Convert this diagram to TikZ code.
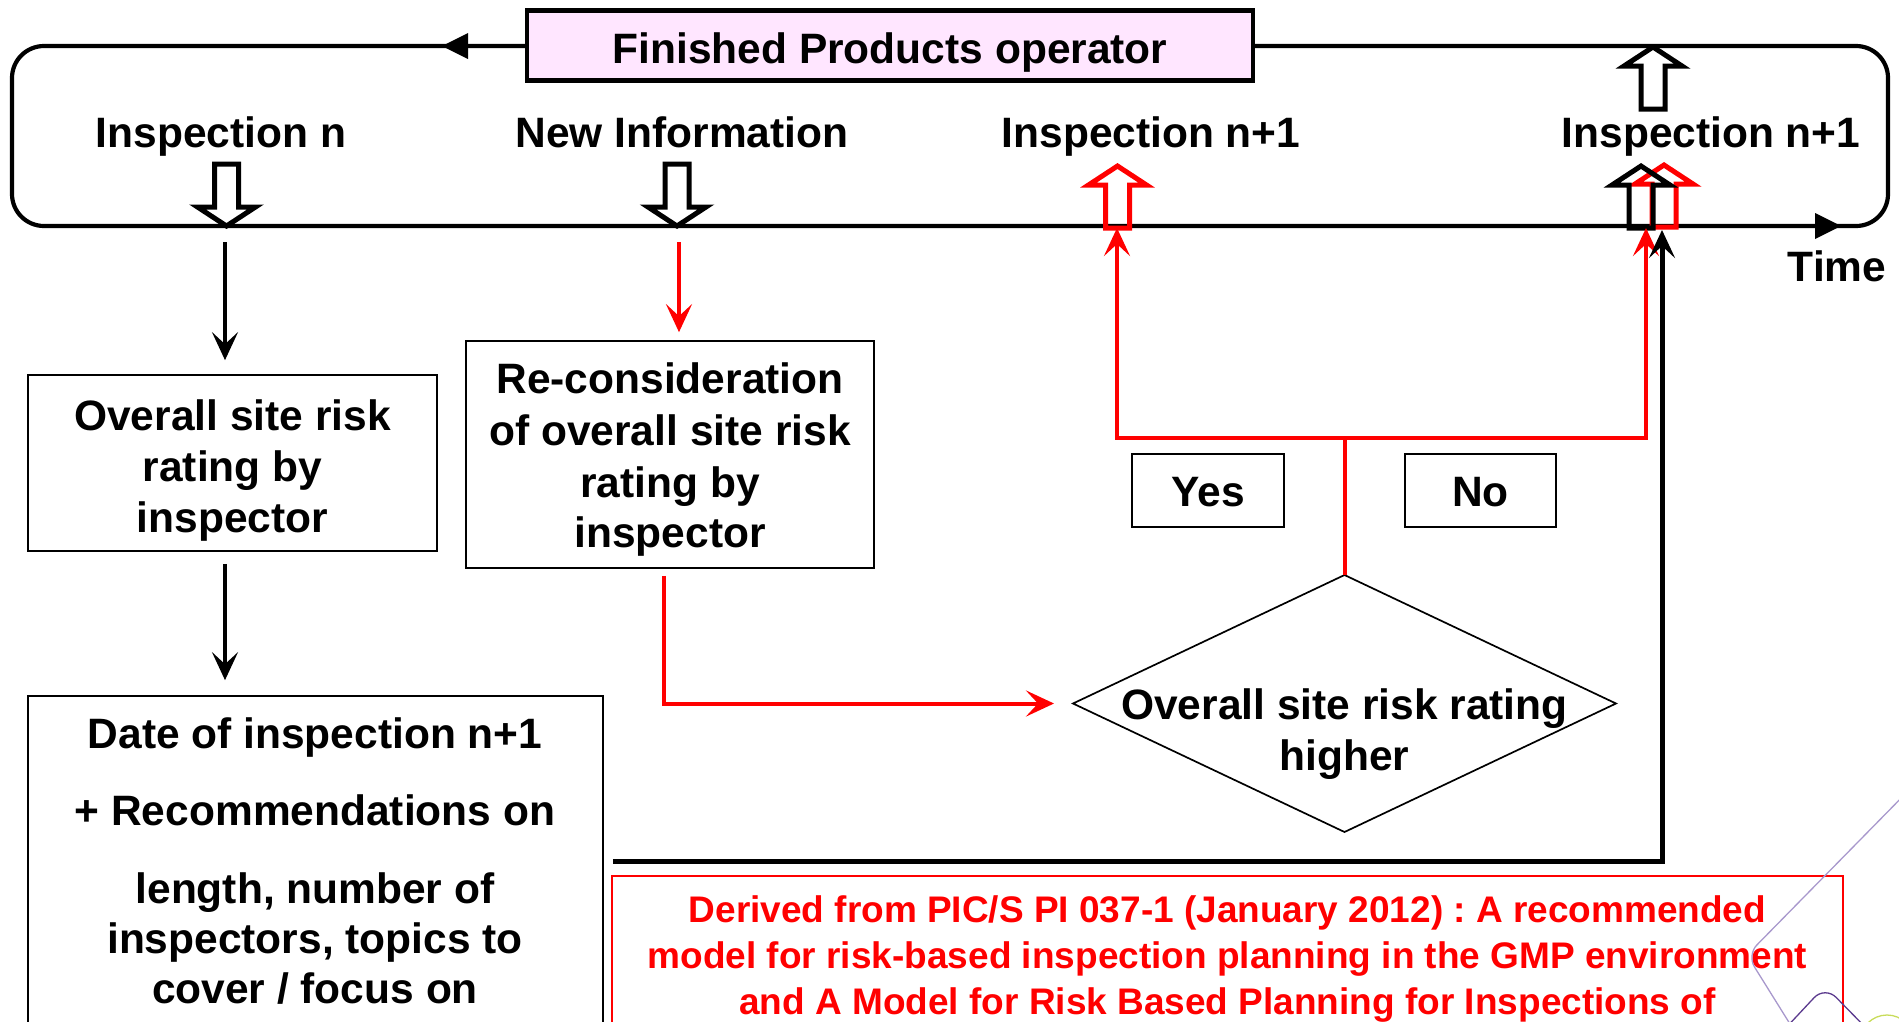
\documentclass[tikz,border=0pt]{standalone}
\usepackage{fontspec}
\setmainfont{Liberation Sans}
\usetikzlibrary{arrows.meta}
\definecolor{pinkfill}{HTML}{FFE6FF}
\definecolor{lav}{HTML}{A898CC}
\definecolor{dpurp}{HTML}{5B3A8E}
\definecolor{ygreen}{HTML}{C8DC5A}
\frenchspacing
\tikzset{
  pics/hup/.style={code={\draw[line width=5pt] (0,0) -- (29,19) -- (12,19) -- (12,62) -- (-12,62) -- (-12,19) -- (-29,19) -- cycle;}},
  pics/hdown/.style={code={\draw[line width=5pt] (0,0) -- (29,-19) -- (12,-19) -- (12,-62) -- (-12,-62) -- (-12,-19) -- (-29,-19) -- cycle;}},
}
\begin{document}
\begin{tikzpicture}[x=1pt,y=-1pt,
  txt/.style={anchor=base, inner sep=0pt, font=\fontsize{42.5}{50}\selectfont\bfseries},
  redtxt/.style={anchor=base, inner sep=0pt, text=red, font=\fontsize{37}{46}\selectfont\bfseries},
  boxstyle/.style={draw, line width=1.7pt, inner sep=0pt},
  tipstyle/.style={-{Stealth[length=28pt,width=26pt,inset=12pt]}},
  blkarrow/.style={line width=3.2pt, tipstyle},
  redarrow/.style={draw=red, line width=4pt, tipstyle},
  redboth/.style={draw=red, line width=4pt, {Stealth[length=28pt,width=26pt,inset=12pt]}-{Stealth[length=28pt,width=26pt,inset=12pt]}},
  thkarrow/.style={line width=5pt, tipstyle},
]
\useasboundingbox (0,0) rectangle (1899,1021);
\clip (0,0) rectangle (1899,1021);

% timeline loop
\draw[line width=4.2pt, rounded corners=32pt] (527,46) -- (12,46) -- (12,226) -- (1888,226) -- (1888,46) -- (1253,46);
\fill (442,46) -- (468,33) -- (468,59) -- cycle;
\fill (1841,226) -- (1815,213) -- (1815,239) -- cycle;

% top box
\node[draw, line width=4.2pt, fill=pinkfill, minimum width=726pt, minimum height=70pt, inner sep=0pt] (fp) at (890,45.5) {};
\node[txt] (fpt) at (890,63) {Finished Products operator};

% header labels
\node[txt] (l1) at (221,147) {Inspection n};
\node[txt] (l2) at (682,147) {New Information};
\node[txt] (l3) at (1151,147) {Inspection n+1};
\node[txt] (l4) at (1711,147) {Inspection n+1};
\node[txt] (l5) at (1837,281) {Time};

% hollow arrows
\pic (ha1) at (226.5,226) {hdown};
\pic (ha2) at (677,226) {hdown};
\pic[red] (ha3) at (1117.5,166) {hup};
\pic[red] (ha4) at (1664,165) {hup};
\pic (ha5) at (1641,166) {hup};
\pic (ha6) at (1653,47) {hup};

% boxes
\node[boxstyle, minimum width=409pt, minimum height=176pt] (ov) at (232.5,463) {};
\node[txt] (ov1) at (232.5,430) {Overall site risk};
\node[txt] (ov2) at (232.5,481) {rating by};
\node[txt] (ov3) at (232.5,532) {inspector};

\node[boxstyle, minimum width=408pt, minimum height=227pt] (rc) at (670,454.5) {};
\node[txt] (rc1) at (670,393) {Re-consideration};
\node[txt] (rc2) at (670,445) {of overall site risk};
\node[txt] (rc3) at (670,497) {rating by};
\node[txt] (rc4) at (670,547) {inspector};

\node[boxstyle, minimum width=575pt, minimum height=404pt] (dt) at (315.5,898) {};
\node[txt] (dt1) at (315,748) {Date of inspection n+1};
\node[txt] (dt2) at (315,825) {+ Recommendations on};
\node[txt] (dt3) at (315,903) {length, number of};
\node[txt] (dt4) at (315,953) {inspectors, topics to};
\node[txt] (dt5) at (315,1003) {cover / focus on};

\node[boxstyle, minimum width=152pt, minimum height=73pt] (yes) at (1208,490.5) {};
\node[txt] (yest) at (1208,506) {Yes};
\node[boxstyle, minimum width=151pt, minimum height=73pt] (no) at (1480.5,490.5) {};
\node[txt] (not) at (1480.5,506) {No};

% diamond
\coordinate (dL) at (1073,703.5);
\coordinate (dT) at (1344.5,575);
\coordinate (dR) at (1616,703.5);
\coordinate (dB) at (1344.5,832);
\draw[line width=1.7pt] (dL) -- (dT) -- (dR) -- (dB) -- cycle;
\node[txt] (dm1) at (1344.5,719) {Overall site risk rating};
\node[txt] (dm2) at (1344.5,770) {higher};

% red source box
\node[draw=red, line width=2pt, minimum width=1231pt, minimum height=224pt, inner sep=0pt] (src) at (1227.5,988) {};
\node[redtxt] (s1) at (1227.5,922) {Derived from PIC/S PI 037-1 (January 2012) : A recommended};
\node[redtxt] (s2) at (1227.5,968) {model for risk-based inspection planning in the GMP environment};
\node[redtxt] (s3) at (1227.5,1014) {and A Model for Risk Based Planning for Inspections of};

% connectors
\coordinate (a1) at (225,242);
\coordinate (a2) at (679,242);
\coordinate (r2) at (664,0);
\coordinate (jn) at (1344.5,438);
\coordinate (jl) at (1117,438);
\coordinate (jr) at (1646,438);
\coordinate (tl) at (1117,228);
\coordinate (tr) at (1646,228);
\coordinate (bk) at (1662,861);
\coordinate (bt) at (1662,230);

\draw[blkarrow, shorten >=14pt] (a1) -- (ov.north -| a1);
\draw[blkarrow, shorten <=12pt, shorten >=15pt] (ov.south -| a1) -- (dt.north -| a1);
\draw[redarrow, shorten >=8pt] (a2) -- (rc.north -| a2);
\draw[redarrow, shorten <=7pt, shorten >=19pt] (rc.south -| r2) |- (dL);
\draw[draw=red, line width=4pt] (dT) -- (jn);
\draw[redboth] (tl) -- (jl) -- (jr) -- (tr);
\draw[thkarrow, shorten <=9pt] (dt.east |- bk) -- (bk) -- (bt);

% decoration
\draw[lav, line width=1.3pt, rounded corners=14pt] (1912,787) -- (1747,955) -- (1795,1032);
\draw[dpurp, line width=1.3pt, rounded corners=16pt] (1782,1032) -- (1825,986) -- (1870,1032);
\draw[ygreen, line width=1.3pt] (1887,1042) circle (27);
\end{tikzpicture}
\end{document}
